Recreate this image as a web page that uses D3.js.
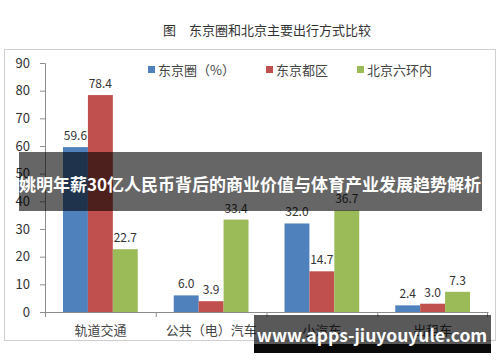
<!DOCTYPE html>
<html>
<head>
<meta charset="utf-8">
<script src="https://cdn.jsdelivr.net/npm/d3@7"></script>
<style>
  body { margin: 0; background: #fff; }
  text { font-family: "Noto Sans CJK SC", "DejaVu Sans", sans-serif; }
</style>
</head>
<body>
<script>
const categories = ['轨道交通', '公共（电）汽车', '小汽车', '出租车']
const seriesNames = ['东京圈（%）', '东京都区', '北京六环内']
const tokyoArea = [59.6, 6.0, 32.0, 2.4]
const tokyoWards = [78.4, 3.9, 14.7, 3.0]
const beijing = [22.7, 33.4, 36.7, 7.3]
const yTicks = [0, 10, 20, 30, 40, 50, 60, 70, 80, 90]
const colors = ['#4f81bd', '#c0504d', '#9bbb59']

function main(){
    const width = 500
    const height = 362
    const plot = {left: 45, right: 488, top: 63, bottom: 312}

    let svg = d3.select('body')
        .append('svg')
        .attr('width', width)
        .attr('height', height)

    // title
    svg.append('text')
        .attr('x', 267)
        .attr('y', 35)
        .attr('text-anchor', 'middle')
        .attr('font-size', '13px')
        .attr('fill', '#333')
        .text('图\u3000东京圈和北京主要出行方式比较')

    // frame
    svg.append('rect')
        .attr('x', 4.5)
        .attr('y', 49.5)
        .attr('width', 491)
        .attr('height', 291)
        .attr('fill', 'none')
        .attr('stroke', '#cfcfcf')

    let xScale = d3.scaleBand()
        .domain(categories)
        .range([plot.left, plot.right])
    let inner = d3.scaleBand()
        .domain(seriesNames)
        .range([18, xScale.bandwidth() - 18])
    let yScale = d3.scaleLinear()
        .domain([0, 90])
        .range([plot.bottom, plot.top])

    let yAxis = svg.append('g')
        .attr('transform', `translate(${plot.left},0)`)
        .call(d3.axisLeft(yScale).tickValues(yTicks).tickSize(5).tickPadding(10))
    yAxis.select('.domain').attr('stroke', '#8c8c8c')
    yAxis.selectAll('.tick line').attr('stroke', '#8c8c8c')
    yAxis.selectAll('.tick text')
        .attr('font-size', '13px')
        .attr('fill', '#333')
        .attr('font-family', '"DejaVu Sans", sans-serif')

    let xAxis = svg.append('g')
        .attr('transform', `translate(0,${plot.bottom})`)
        .call(d3.axisBottom(xScale).tickSizeOuter(0).tickSize(0).tickPadding(14))
    xAxis.select('.domain').attr('stroke', '#8c8c8c')
    xAxis.selectAll('.tick text')
        .attr('font-size', '13px')
        .attr('fill', '#444')
    // ticks between categories
    xAxis.selectAll('.sep')
        .data(categories)
        .enter()
        .append('line')
        .attr('x1', d => xScale(d) + 0.5)
        .attr('x2', d => xScale(d) + 0.5)
        .attr('y1', 0)
        .attr('y2', 5)
        .attr('stroke', '#8c8c8c')
    xAxis.append('line')
        .attr('x1', plot.right - 0.5).attr('x2', plot.right - 0.5)
        .attr('y1', 0).attr('y2', 5)
        .attr('stroke', '#8c8c8c')

    const series = [tokyoArea, tokyoWards, beijing]
    series.forEach(function(vals, s){
        let g = svg.append('g')
        g.selectAll('rect')
            .data(vals)
            .enter()
            .append('rect')
            .attr('x', (d, i) => xScale(categories[i]) + inner(seriesNames[s]))
            .attr('y', d => yScale(d))
            .attr('width', inner.bandwidth())
            .attr('height', d => yScale(0) - yScale(d))
            .attr('fill', colors[s])
        g.selectAll('text')
            .data(vals)
            .enter()
            .append('text')
            .attr('x', (d, i) => xScale(categories[i]) + inner(seriesNames[s]) + inner.bandwidth() / 2)
            .attr('y', d => yScale(d) - 7)
            .attr('text-anchor', 'middle')
            .attr('font-size', '12px')
            .attr('font-family', '"DejaVu Sans", sans-serif')
            .attr('fill', '#333')
            .text(d => d.toFixed(1))
    })

    // legend
    const legendX = [148, 266, 357]
    seriesNames.forEach(function(name, i){
        svg.append('rect')
            .attr('x', legendX[i])
            .attr('y', 66)
            .attr('width', 7)
            .attr('height', 7)
            .attr('fill', colors[i])
        svg.append('text')
            .attr('x', legendX[i] + 10)
            .attr('y', 75)
            .attr('font-size', '13px')
            .attr('fill', '#444')
            .text(name)
    })

    // overlay banner
    svg.append('rect')
        .attr('x', 19)
        .attr('y', 152)
        .attr('width', 463)
        .attr('height', 59)
        .attr('fill', 'rgba(0,0,0,0.6)')
    svg.append('text')
        .attr('x', 250)
        .attr('y', 191)
        .attr('text-anchor', 'middle')
        .attr('font-size', '17px')
        .attr('font-weight', 'bold')
        .attr('fill', '#fff')
        .text('姚明年薪30亿人民币背后的商业价值与体育产业发展趋势解析')

    // watermark
    svg.append('rect')
        .attr('x', 254)
        .attr('y', 315)
        .attr('width', 237)
        .attr('height', 29)
        .attr('fill', 'rgba(0,0,0,0.65)')
    svg.append('rect')
        .attr('x', 254)
        .attr('y', 344)
        .attr('width', 237)
        .attr('height', 9)
        .attr('fill', '#0a0a0a')
    svg.append('text')
        .attr('x', 372)
        .attr('y', 342)
        .attr('text-anchor', 'middle')
        .attr('font-size', '17.5px')
        .attr('font-weight', 'bold')
        .attr('font-family', '"Open Sans", "DejaVu Sans", sans-serif')
        .attr('fill', '#fff')
        .text('www.apps-jiuyouyule.com')
}

main()
</script>
</body>
</html>
